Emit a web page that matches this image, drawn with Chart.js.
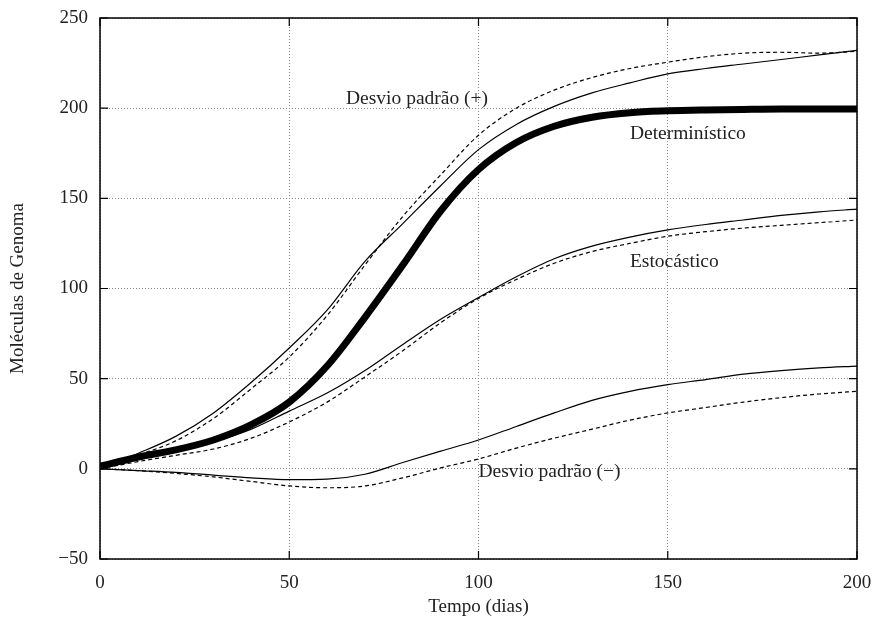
<!DOCTYPE html>
<html>
<head>
<meta charset="utf-8">
<script src="https://cdn.jsdelivr.net/npm/chart.js@4/dist/chart.umd.min.js"></script>
<style>
  html, body { margin: 0; background: #fff; }
</style>
</head>
<body>
<canvas id="genoma" width="877" height="624"></canvas>
<script>
// tempo em dias (eixo x)
const dias = [0, 10, 20, 30, 40, 50, 60, 70, 80, 90, 100, 110, 120, 130, 140, 150, 160, 170, 180, 190, 200];

// modelo determinístico
const deterministico = [1.5, 6.5, 10.5, 16, 24.5, 37, 57, 84, 113, 143, 166, 181, 190, 195, 197.5, 198.5, 199, 199.3, 199.5, 199.5, 199.5];

// média estocástica (contínua e tracejada)
const estocasticoA = [0, 5, 10, 15, 22, 32, 42, 54.5, 69, 83, 95, 106.5, 116.5, 123.5, 128.5, 132.5, 135.5, 138, 140.5, 142.5, 144];
const estocasticoB = [0, 4, 7.5, 11, 17, 26, 37, 51, 65.5, 81, 94.5, 105, 114, 120.5, 125, 129, 131.5, 133.5, 135, 136.5, 138];

// média + desvio padrão
const desvioMaisA = [0, 8.5, 18, 31, 48, 67, 88, 115, 136, 157, 177, 191, 201, 208.5, 214, 219, 222, 224.5, 227, 229.5, 232];
const desvioMaisB = [0, 7.5, 15.5, 28, 44.5, 62, 85, 113, 140, 163, 185, 200, 210, 217, 222, 225.5, 228.5, 230.5, 231, 230.5, 231.5];

// média - desvio padrão
const desvioMenosA = [0, -1, -2, -3.5, -5, -6, -5.7, -3, 3.5, 9.8, 16, 23.5, 31, 38, 43, 46.7, 49.5, 52.5, 54.5, 56, 57];
const desvioMenosB = [0, -1, -2.5, -4.5, -7, -9.5, -10.5, -9.5, -5, 0.5, 5.5, 11.5, 17, 22, 27, 31, 34, 37, 39.5, 41.5, 43];

const fonte = '"Liberation Serif", "DejaVu Serif", serif';
const pontos = arr => dias.map((d, i) => ({ x: d, y: arr[i] }));

function serie(arr, largura, tracejado) {
  return {
    data: pontos(arr),
    borderColor: '#000',
    borderWidth: largura,
    borderDash: tracejado ? [4, 3] : [],
    pointRadius: 0,
    fill: false,
    cubicInterpolationMode: 'monotone'
  };
}

// moldura completa e marcas de escala para dentro, nos quatro lados
const moldura = {
  id: 'moldura',
  afterDraw(chart) {
    const { ctx, chartArea: a, scales } = chart;
    ctx.save();
    ctx.strokeStyle = '#000';
    ctx.lineWidth = 1.5;
    ctx.setLineDash([]);
    ctx.strokeRect(a.left, a.top, a.right - a.left, a.bottom - a.top);
    ctx.lineWidth = 1.2;
    ctx.beginPath();
    scales.x.ticks.forEach(t => {
      const px = scales.x.getPixelForValue(t.value);
      ctx.moveTo(px, a.bottom); ctx.lineTo(px, a.bottom - 8);
      ctx.moveTo(px, a.top); ctx.lineTo(px, a.top + 8);
    });
    scales.y.ticks.forEach(t => {
      const py = scales.y.getPixelForValue(t.value);
      ctx.moveTo(a.left, py); ctx.lineTo(a.left + 8, py);
      ctx.moveTo(a.right, py); ctx.lineTo(a.right - 8, py);
    });
    ctx.stroke();
    ctx.restore();
  }
};

// rótulos das curvas
const rotulos = {
  id: 'rotulos',
  afterDatasetsDraw(chart) {
    const { ctx, scales } = chart;
    const itens = [
      ['Desvio padrão (+)', 65, 205],
      ['Determinístico', 140, 185.5],
      ['Estocástico', 140, 115],
      ['Desvio padrão (−)', 100, -1.7]
    ];
    ctx.save();
    ctx.font = '19.5px ' + fonte;
    ctx.fillStyle = '#222';
    ctx.textAlign = 'left';
    ctx.textBaseline = 'middle';
    itens.forEach(([txt, x, y]) => {
      ctx.fillText(txt, scales.x.getPixelForValue(x), scales.y.getPixelForValue(y));
    });
    ctx.restore();
  }
};

const ctx = document.getElementById('genoma').getContext('2d');
new Chart(ctx, {
  type: 'line',
  data: {
    datasets: [
      serie(deterministico, 7, false),
      serie(estocasticoA, 1.2, false),
      serie(estocasticoB, 1.2, true),
      serie(desvioMaisA, 1.2, false),
      serie(desvioMaisB, 1.2, true),
      serie(desvioMenosA, 1.2, false),
      serie(desvioMenosB, 1.2, true)
    ]
  },
  options: {
    responsive: false,
    animation: false,
    layout: { padding: { top: 18, right: 20, left: 0, bottom: 0 } },
    plugins: { legend: { display: false }, tooltip: { enabled: false } },
    scales: {
      x: {
        type: 'linear',
        min: 0, max: 200,
        // altura fixa e sem folga extra para os rótulos das pontas
        afterFit: s => { s.height = 65; s.paddingLeft = 0; s.paddingRight = 0; },
        ticks: { stepSize: 50, padding: 13, color: '#222', font: { family: fonte, size: 19 } },
        grid: { color: '#888', lineWidth: 1, drawTicks: false },
        border: { display: false, dash: [1, 2] },
        title: { display: true, text: 'Tempo (dias)', color: '#222', padding: { top: 0, bottom: 6 }, font: { family: fonte, size: 19 } }
      },
      y: {
        min: -50, max: 250,
        afterFit: s => { s.width = 100; s.paddingTop = 0; s.paddingBottom = 0; },
        ticks: {
          stepSize: 50, padding: 12, color: '#222', font: { family: fonte, size: 19 },
          callback: v => v < 0 ? '−' + Math.abs(v) : String(v)
        },
        grid: { color: '#888', lineWidth: 1, drawTicks: false },
        border: { display: false, dash: [1, 2] },
        title: { display: true, text: 'Moléculas de Genoma', color: '#222', padding: { top: 7, bottom: 0 }, font: { family: fonte, size: 19 } }
      }
    }
  },
  plugins: [moldura, rotulos]
});
</script>
</body>
</html>
